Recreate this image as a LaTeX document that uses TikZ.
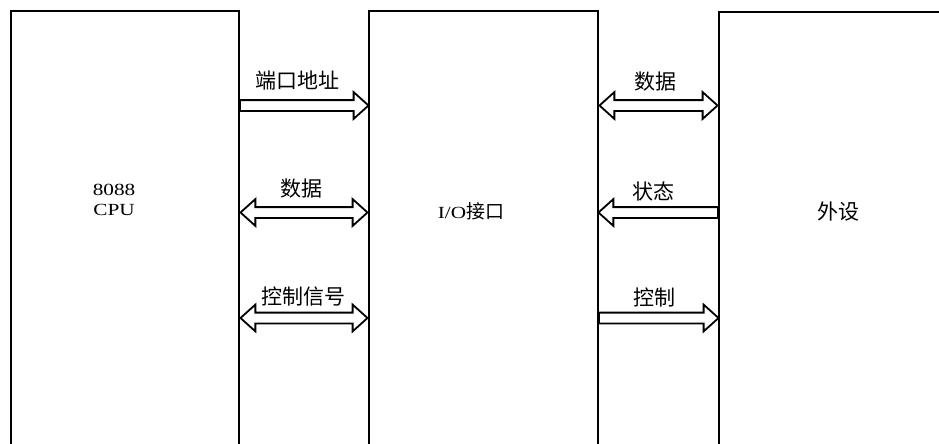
\documentclass[tikz,border=0pt]{standalone}
\usepackage{fontspec}
\setmainfont{Liberation Serif}
\newfontfamily\cjk{Noto Sans CJK SC}
\usetikzlibrary{shapes.arrows, calc}
\newcommand{\wide}[1]{\scalebox{1.25}[1]{#1}}

\begin{document}
\begin{tikzpicture}[
  x=1pt, y=-1pt,
  unitbox/.style={draw=black, line width=2pt, minimum height=520pt, anchor=north west, inner sep=0pt},
  oneway/.style={single arrow, draw=black, line width=1.8pt, fill=white, inner xsep=0pt, inner ysep=4.5pt,
    outer sep=0pt, minimum height=#1, single arrow head extend=8pt, single arrow tip angle=84},
  twoway/.style={double arrow, draw=black, line width=1.8pt, fill=white, inner xsep=0pt, inner ysep=4.5pt,
    outer sep=0pt, minimum height=#1, double arrow head extend=8pt, double arrow tip angle=84},
  tag/.style={font=\fontsize{21}{24}\selectfont\cjk, inner sep=0pt},
  unittext/.style={font=\fontsize{17}{20.5}\selectfont, align=center, inner sep=0pt}
]

  \useasboundingbox (0,0) rectangle (939,444);
  \clip (0,0) rectangle (939,444);

  \node[unitbox, minimum width=228pt] (cpu) at (10,10) {};
  \node[unitbox, minimum width=229pt] (io) at (368,10) {};
  \node[unitbox, minimum width=300pt] (dev) at (718,11) {};

  \node[unittext] (cpuname) at (114,200) {\wide{8088}\\\wide{CPU}};
  \node[unittext] (ioname) at (471,211) {\wide{I/O}{\cjk\fontsize{19}{20}\selectfont 接口}};
  \node[tag] (devname) at (838,212) {外设};

  \coordinate (rowA) at (0,105.5);
  \coordinate (rowB) at (0,212.5);
  \coordinate (rowC) at (0,318);

  % CPU <-> I/O
  \node[oneway=128.5pt, anchor=tail] (addr) at (cpu.east |- rowA) {};
  \node[twoway=127pt] (bus) at ($(cpu.east |- rowB)!.5!(io.west |- rowB)$) {};
  \node[twoway=127pt] (ctrlbus) at ($(cpu.east |- rowC)!.5!(io.west |- rowC)$) {};

  % I/O <-> device
  \node[twoway=118pt] (devdata) at ($(io.east |- rowA)!.5!(dev.west |- rowA)$) {};
  \node[oneway=119.5pt, shape border rotate=180, anchor=tail] (devstate) at (dev.west |- rowB) {};
  \node[oneway=119.5pt, anchor=tail] (devctrl) at (io.east |- rowC) {};

  \node[tag] (addrlbl) at (297,81) {端口地址};
  \node[tag] (buslbl) at (301,189) {数据};
  \node[tag] (ctrlbuslbl) at (303,297) {控制信号};
  \node[tag] (devdatalbl) at (655,82) {数据};
  \node[tag] (devstatelbl) at (653,191) {状态};
  \node[tag] (devctrllbl) at (654,297) {控制};

\end{tikzpicture}
\end{document}
